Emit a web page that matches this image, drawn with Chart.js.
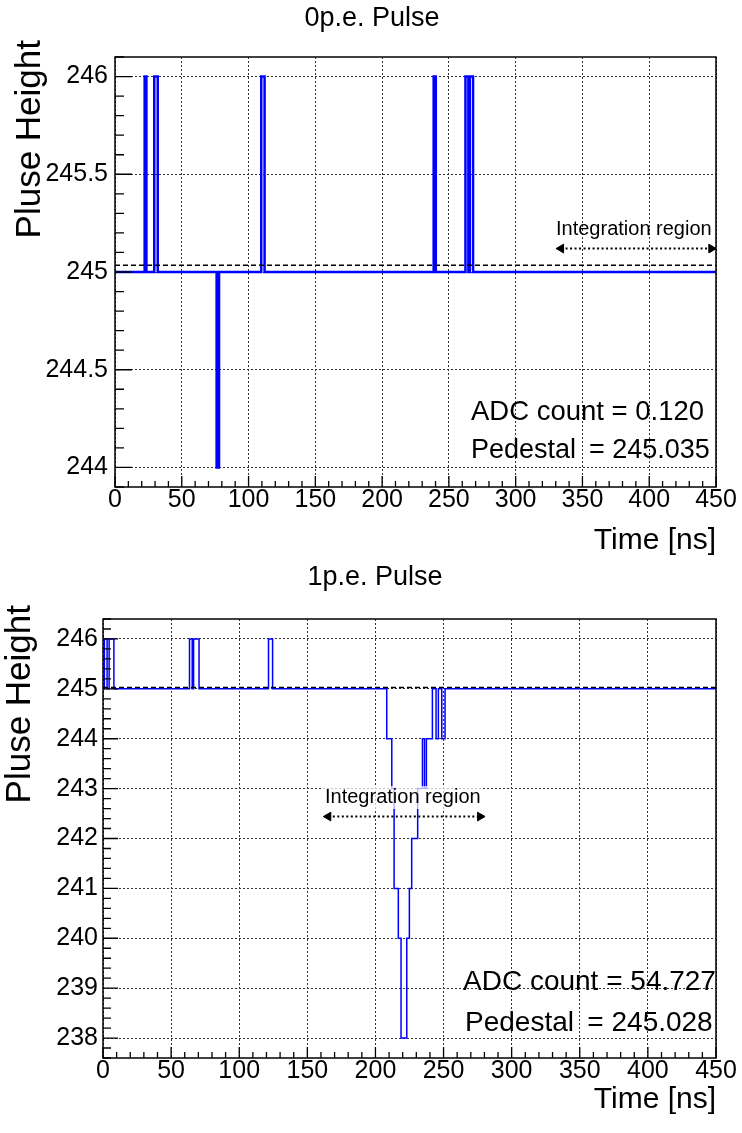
<!DOCTYPE html>
<html>
<head>
<meta charset="utf-8">
<script src="https://cdn.jsdelivr.net/npm/chart.js@4.4.1/dist/chart.umd.min.js"></script>
<style>
  body { margin: 0; background: #fff; }
  .box { position: absolute; left: 0; width: 742px; }
  #top { top: 0; height: 560px; }
  #bottom { top: 560px; height: 573px; }
</style>
</head>
<body>
<div class="box" id="top"><canvas id="c0"></canvas></div>
<div class="box" id="bottom"><canvas id="c1"></canvas></div>
<script>
// 0p.e. pulse: bin edges [ns], value held from each edge to the next
const edges0 = [0, 22.2, 23.5, 29.4, 32, 76.1, 77.9, 109.5, 112, 238.6, 240.2, 262.4, 264.6, 265.6, 268.1, 450];
const values0 = [245, 246, 245, 246, 245, 244, 245, 246, 245, 246, 245, 246, 245, 246, 245];
const pedestal0 = 245.035;
const adc0 = "0.120";
const window0 = [334, 446.5];

// 1p.e. pulse
const edges1 = [0, 1, 3, 4.5, 8, 63.5, 65.5, 66.5, 70.5, 121.5, 124.5, 208.3, 212, 213.7, 216.8, 218.8,
  223, 224.9, 226.6, 231, 234.5, 236, 237.4, 241.8, 244.5, 246.2, 248.7, 251.1, 450];
const values1 = [245, 246, 245, 246, 245, 246, 245, 246, 245, 246, 245, 244, 243, 241, 240, 238,
  240, 241, 242, 243, 244, 243, 244, 245, 244, 245, 244, 245];
const pedestal1 = 245.028;
const adc1 = "54.727";
const window1 = [165.4, 276.8];

const xTicks = [0, 50, 100, 150, 200, 250, 300, 350, 400, 450];
const yTicks0 = [244, 244.5, 245, 245.5, 246];
const yTicks1 = [238, 239, 240, 241, 242, 243, 244, 245, 246];

Chart.defaults.font.family = "'Liberation Sans', Arial, Helvetica, sans-serif";
Chart.defaults.color = '#000';

function stepPoints(edges, values) {
  return edges.map((x, i) => ({ x: x, y: values[Math.min(i, values.length - 1)] }));
}

// ROOT style frame with inward ticks
const rootFrame = {
  id: 'rootFrame',
  afterDatasetsDraw(chart, args, o) {
    const { ctx, chartArea: a, scales: { x, y } } = chart;
    ctx.save();
    ctx.strokeStyle = '#000';
    ctx.lineWidth = 1.3;
    ctx.beginPath();
    for (let v = x.min; v <= x.max + 1e-6; v += o.xMinor) {
      const px = x.getPixelForValue(v);
      const major = Math.abs(v % o.xMajor) < 1e-6;
      ctx.moveTo(px, a.bottom);
      ctx.lineTo(px, a.bottom - (major ? o.xMajorLen : o.xMinorLen));
    }
    const k0 = Math.ceil(y.min / o.yMinor - 1e-6), k1 = Math.floor(y.max / o.yMinor + 1e-6);
    for (let k = k0; k <= k1; k++) {
      const v = k * o.yMinor;
      const r = v / o.yMajor;
      const major = Math.abs(r - Math.round(r)) < 1e-6;
      const py = y.getPixelForValue(v);
      ctx.moveTo(a.left, py);
      ctx.lineTo(a.left + (major ? o.yMajorLen : o.yMinorLen), py);
    }
    ctx.stroke();
    ctx.lineWidth = 1.5;
    ctx.strokeRect(a.left, a.top, a.right - a.left, a.bottom - a.top);
    ctx.restore();
  }
};

const rootText = {
  id: 'rootText',
  afterDatasetsDraw(chart, args, o) {
    const ctx = chart.ctx;
    ctx.save();
    o.items.forEach(t => {
      ctx.font = t.size + "px 'Liberation Sans', Arial, sans-serif";
      ctx.textAlign = t.align || 'left';
      ctx.textBaseline = t.baseline || 'alphabetic';
      if (t.box) {
        const w = ctx.measureText(t.text).width;
        ctx.fillStyle = 'rgba(255,255,255,0.7)';
        ctx.fillRect(t.x - 2, t.y - t.box[0], w + 4, t.box[0] + t.box[1]);
      }
      ctx.fillStyle = '#000';
      ctx.save();
      ctx.translate(t.x, t.y);
      if (t.rotate) ctx.rotate(-Math.PI / 2);
      ctx.fillText(t.text, 0, 0);
      ctx.restore();
    });
    ctx.restore();
  }
};

function makeChart(id, c) {
  const grid = { color: '#333', lineWidth: 1, drawTicks: false };
  const border = { display: false, dash: [2, 2] };
  return new Chart(document.getElementById(id), {
    type: 'line',
    data: {
      datasets: [
        {
          data: [{ x: c.window[0], y: c.arrowY }, { x: c.window[1], y: c.arrowY }],
          borderColor: '#000', backgroundColor: '#000', borderWidth: 2, borderDash: [2, 2.5],
          pointStyle: 'triangle', pointRadius: 5, pointRotation: [270, 90], pointBorderWidth: 1
        },
        {
          data: [{ x: 0, y: c.pedestal }, { x: 450, y: c.pedestal }],
          borderColor: '#000', borderWidth: 1.5, borderDash: [5, 3], pointRadius: 0
        },
        {
          data: stepPoints(c.edges, c.values),
          borderColor: '#0000ff', borderWidth: c.lineWidth, stepped: 'before', pointRadius: 0, fill: false
        }
      ]
    },
    options: {
      responsive: true, maintainAspectRatio: false, animation: false,
      layout: { padding: { top: c.areaTop, right: 26, left: 0, bottom: 0 } },
      plugins: {
        legend: { display: false },
        tooltip: { enabled: false },
        rootFrame: c.frame,
        rootText: { items: c.texts }
      },
      scales: {
        x: {
          type: 'linear', min: 0, max: 450,
          afterBuildTicks: s => { s.ticks = xTicks.map(v => ({ value: v })); },
          afterFit: s => { s.height = c.xHeight; s.paddingLeft = 0; s.paddingRight = 0; },
          ticks: { font: { size: 25, lineHeight: 1 }, padding: c.xTickPad, maxRotation: 0, autoSkip: false, color: '#000' },
          grid: grid, border: border,
          title: { display: true, text: 'Time [ns]', align: 'end', color: '#000',
            font: { size: 30, lineHeight: 1 }, padding: { top: 0, bottom: c.xTitlePad } }
        },
        y: {
          type: 'linear', min: c.yMin, max: c.yMax,
          afterBuildTicks: s => { s.ticks = c.yTicks.map(v => ({ value: v })); },
          afterFit: s => { s.width = c.yWidth; s.paddingTop = 0; s.paddingBottom = 0; },
          ticks: { font: { size: 25, lineHeight: 1 }, padding: c.yTickPad, color: '#000', callback: v => String(v) },
          grid: grid, border: border
        }
      }
    },
    plugins: [rootFrame, rootText]
  });
}

makeChart('c0', {
  edges: edges0, values: values0, pedestal: pedestal0, window: window0, arrowY: 245.12,
  yTicks: yTicks0, yMin: 243.9, yMax: 246.1, lineWidth: 2.5,
  areaTop: 57, xHeight: 73, yWidth: 115, xTickPad: 1, xTitlePad: 4, yTickPad: 7,
  frame: { xMinor: 10, xMajor: 50, xMajorLen: 11, xMinorLen: 6, yMinor: 0.1, yMajor: 0.5, yMajorLen: 17, yMinorLen: 9 },
  texts: [
    { text: '0p.e. Pulse', x: 372, y: 19, size: 27, align: 'center', baseline: 'middle' },
    { text: 'Pluse Height', x: 30, y: 40, size: 35, align: 'right', baseline: 'middle', rotate: true },
    { text: 'Integration region', x: 556, y: 235, size: 20 },
    { text: 'ADC count = ' + adc0, x: 471, y: 420, size: 27.5 },
    { text: 'Pedestal \u2009= ' + pedestal0.toFixed(3), x: 471, y: 458, size: 27 }
  ]
});

makeChart('c1', {
  edges: edges1, values: values1, pedestal: pedestal1, window: window1, arrowY: 242.44,
  yTicks: yTicks1, yMin: 237.6, yMax: 246.4, lineWidth: 1.5,
  areaTop: 59, xHeight: 75, yWidth: 103, xTickPad: 1, xTitlePad: 18, yTickPad: 5,
  frame: { xMinor: 10, xMajor: 50, xMajorLen: 11, xMinorLen: 6, yMinor: 0.2, yMajor: 1, yMajorLen: 15, yMinorLen: 8 },
  texts: [
    { text: '1p.e. Pulse', x: 375, y: 18, size: 27, align: 'center', baseline: 'middle' },
    { text: 'Pluse Height', x: 20, y: 45, size: 35, align: 'right', baseline: 'middle', rotate: true },
    { text: 'Integration region', x: 325, y: 243, size: 20, box: [17, 6] },
    { text: 'ADC count = ' + adc1, x: 463, y: 430, size: 28 },
    { text: 'Pedestal \u2009= ' + pedestal1.toFixed(3), x: 465, y: 471, size: 28 }
  ]
});
</script>
</body>
</html>
